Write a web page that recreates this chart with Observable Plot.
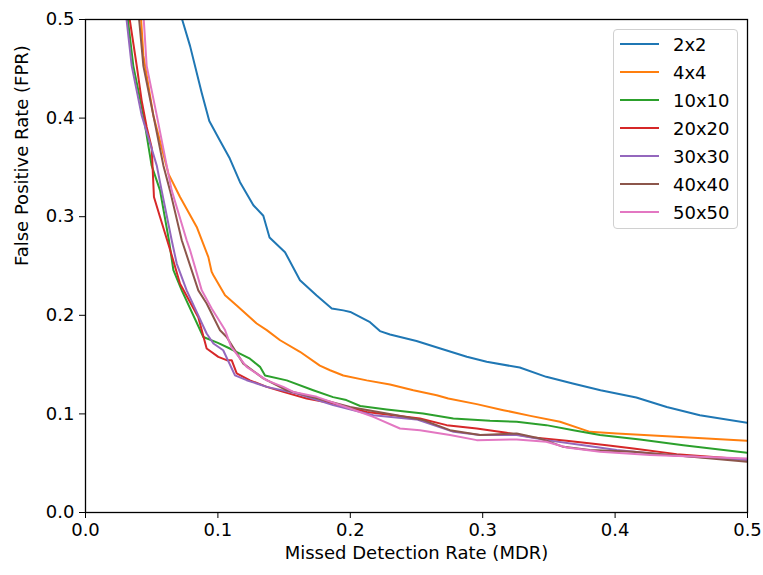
<!DOCTYPE html>
<html>
<head>
<meta charset="utf-8">
<script src="https://cdn.jsdelivr.net/npm/d3@7"></script>
<script src="https://cdn.jsdelivr.net/npm/@observablehq/plot@0.6"></script>
<style>
  body { margin: 0; background: #fff; }
  #wrap { position: relative; width: 763px; height: 575px; font-family: "DejaVu Sans", sans-serif; }
  #legend { position: absolute; left: 613px; top: 29px; width: 125px; height: 200px; box-sizing: border-box;
            border: 1px solid #d0d0d0; border-radius: 4px; background: rgba(255,255,255,0.8); }
  .row { position: absolute; left: 0; height: 28px; display: flex; align-items: center; }
  .sw { width: 39px; height: 0; border-top: 2px solid; margin-left: 6px; margin-right: 14px; }
  .lb { font-size: 18px; color: #000; }
</style>
</head>
<body>
<div id="wrap"></div>
<script>
// ---- data ----
const seriesNames = ["2x2", "4x4", "10x10", "20x20", "30x30", "40x40", "50x50"];
const seriesColors = ["#1f77b4", "#ff7f0e", "#2ca02c", "#d62728", "#9467bd", "#8c564b", "#e377c2"];
const xTicks = [0, 0.1, 0.2, 0.3, 0.4, 0.5];
const yTicks = [0, 0.1, 0.2, 0.3, 0.4, 0.5];

const mdr2x2 = [0.073,0.079,0.0877,0.0935,0.1016,0.109,0.1167,0.1268,0.1343,0.139,0.1507,0.162,0.1746,0.186,0.1947,0.2,0.2149,0.2224,0.23,0.25,0.268,0.288,0.303,0.328,0.348,0.368,0.389,0.416,0.439,0.464,0.5];
const fpr2x2 = [0.5,0.473,0.426,0.397,0.377,0.359,0.335,0.3116,0.301,0.279,0.264,0.2355,0.22,0.207,0.205,0.2034,0.193,0.184,0.1805,0.174,0.1663,0.158,0.1528,0.147,0.1376,0.1308,0.124,0.1166,0.107,0.0987,0.091];

const mdr4x4 = [0.042,0.0437,0.0512,0.0626,0.0714,0.084,0.0928,0.0953,0.0966,0.1054,0.1142,0.1293,0.1369,0.147,0.162,0.177,0.1847,0.1947,0.2124,0.23,0.2476,0.2653,0.274,0.2955,0.3156,0.336,0.3584,0.381,0.4012,0.439,0.5];
const fpr4x4 = [0.5,0.4636,0.403,0.3437,0.32,0.2896,0.259,0.244,0.2406,0.2204,0.21,0.1917,0.185,0.1747,0.163,0.149,0.1443,0.139,0.134,0.1298,0.124,0.119,0.1156,0.1099,0.1038,0.098,0.092,0.0818,0.08,0.0774,0.0727];

const mdr10x10 = [0.032,0.0361,0.0437,0.0499,0.0563,0.063,0.0664,0.0727,0.089,0.1,0.109,0.1242,0.1318,0.1356,0.152,0.172,0.187,0.197,0.2075,0.2275,0.255,0.2778,0.3055,0.3257,0.348,0.3685,0.3886,0.4188,0.4515,0.5];
const fpr10x10 = [0.5,0.453,0.403,0.352,0.3267,0.2761,0.2457,0.2253,0.178,0.172,0.1663,0.156,0.1477,0.139,0.134,0.124,0.117,0.114,0.108,0.1045,0.1004,0.0954,0.093,0.092,0.0886,0.0835,0.0785,0.0741,0.0683,0.0605];

const mdr20x20 = [0.0334,0.0387,0.0424,0.0462,0.05,0.0517,0.0563,0.064,0.0714,0.0852,0.0915,0.1003,0.1066,0.1104,0.1142,0.1242,0.1369,0.1494,0.167,0.1872,0.2124,0.2526,0.2728,0.2955,0.318,0.3383,0.3634,0.3937,0.4138,0.4465,0.5];
const fpr20x20 = [0.5,0.453,0.418,0.391,0.37,0.32,0.2997,0.266,0.232,0.198,0.1663,0.1578,0.1545,0.1545,0.141,0.134,0.1274,0.1223,0.1156,0.1106,0.102,0.0954,0.0886,0.0852,0.0808,0.0761,0.0727,0.0683,0.065,0.0592,0.0538];

const mdr30x30 = [0.031,0.0349,0.0424,0.0538,0.0575,0.0651,0.0689,0.0764,0.0915,0.0966,0.104,0.1129,0.1217,0.1369,0.1595,0.187,0.2174,0.25,0.278,0.298,0.3257,0.348,0.376,0.4012,0.439,0.5];
const fpr30x30 = [0.5,0.453,0.403,0.352,0.3267,0.2761,0.2525,0.2253,0.1815,0.1714,0.1646,0.139,0.1342,0.1274,0.1207,0.1089,0.0987,0.0944,0.0818,0.0785,0.0785,0.0734,0.0683,0.0633,0.0582,0.0531];

const mdr40x40 = [0.0405,0.0437,0.0512,0.0588,0.0638,0.0727,0.0852,0.0915,0.1016,0.1066,0.1192,0.1343,0.152,0.1998,0.235,0.255,0.2753,0.298,0.3257,0.3433,0.3609,0.381,0.4138,0.4515,0.5];
const fpr40x40 = [0.5,0.453,0.403,0.352,0.3267,0.2761,0.2253,0.212,0.1849,0.178,0.151,0.136,0.124,0.107,0.0987,0.0937,0.0835,0.0785,0.0802,0.0751,0.0666,0.0633,0.0616,0.0572,0.0514];

const mdr50x50 = [0.044,0.0462,0.0538,0.0613,0.0651,0.0764,0.079,0.0878,0.0953,0.1054,0.11,0.1217,0.1369,0.1494,0.157,0.1746,0.1998,0.2174,0.2375,0.2526,0.2753,0.2955,0.3257,0.348,0.3634,0.3886,0.4264,0.4641,0.5];
const fpr50x50 = [0.5,0.453,0.403,0.352,0.3267,0.2761,0.266,0.2253,0.2069,0.185,0.168,0.1477,0.134,0.1274,0.1223,0.1173,0.1055,0.097,0.0852,0.0835,0.0785,0.0734,0.0741,0.0717,0.066,0.0616,0.0582,0.0565,0.0548];

const seriesX = [mdr2x2, mdr4x4, mdr10x10, mdr20x20, mdr30x30, mdr40x40, mdr50x50];
const seriesY = [fpr2x2, fpr4x4, fpr10x10, fpr20x20, fpr30x30, fpr40x40, fpr50x50];

const rows = [];
seriesNames.forEach((name, i) => {
  seriesX[i].forEach((x, j) => rows.push({series: name, mdr: x, fpr: seriesY[i][j]}));
});

const fmt = d3.format(".1f");
const chart = Plot.plot({
  width: 763,
  height: 575,
  marginLeft: 85,
  marginRight: 16,
  marginTop: 19,
  marginBottom: 63,
  style: {fontFamily: "DejaVu Sans, sans-serif", fontSize: "18px", color: "#000", background: "#fff"},
  x: {domain: [0, 0.5]},
  y: {domain: [0, 0.5]},
  color: {domain: seriesNames, range: seriesColors},
  marks: [
    Plot.line(rows, {x: "mdr", y: "fpr", z: "series", stroke: "series", strokeWidth: 2, clip: true}),
    Plot.frame({stroke: "#000", strokeWidth: 1.3}),
    Plot.axisX({ticks: xTicks, tickFormat: fmt, tickSize: 6, tickPadding: 5, label: null, stroke: "#000", fill: "#000"}),
    Plot.axisY({ticks: yTicks, tickFormat: fmt, tickSize: 6, tickPadding: 5, label: null, stroke: "#000", fill: "#000"}),
    Plot.text(["Missed Detection Rate (MDR)"], {text: d => d, frameAnchor: "bottom", lineAnchor: "middle", dy: 41, fill: "#000"}),
    Plot.text(["False Positive Rate (FPR)"], {text: d => d, frameAnchor: "left", rotate: -90, dx: -63, fill: "#000"})
  ]
});

const wrap = document.getElementById("wrap");
wrap.appendChild(chart);

// legend overlay
const legend = document.createElement("div");
legend.id = "legend";
seriesNames.forEach((name, i) => {
  const row = document.createElement("div");
  row.className = "row";
  row.style.top = (0 + i * 28) + "px";
  const sw = document.createElement("div");
  sw.className = "sw";
  sw.style.borderTopColor = seriesColors[i];
  const lb = document.createElement("span");
  lb.className = "lb";
  lb.textContent = name;
  row.appendChild(sw);
  row.appendChild(lb);
  legend.appendChild(row);
});
wrap.appendChild(legend);
</script>
</body>
</html>
